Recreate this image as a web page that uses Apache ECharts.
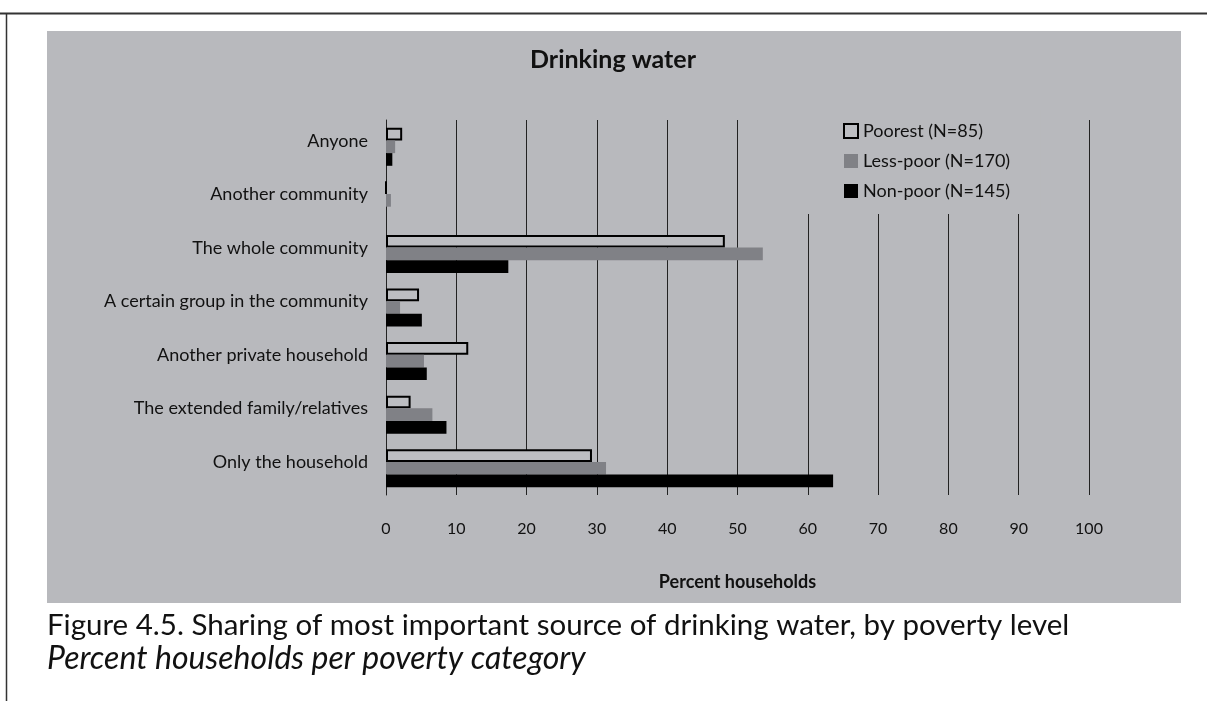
<!DOCTYPE html>
<html>
<head>
<meta charset="utf-8">
<script src="https://cdn.jsdelivr.net/npm/echarts@6/dist/echarts.min.js"></script>
<style>
  html, body { margin: 0; padding: 0; background: #fff; }
  #chart { width: 1207px; height: 701px; }
</style>
</head>
<body>
<div id="chart"></div>
<script>
  // categories top to bottom
  const categories = [
    'Anyone',
    'Another community',
    'The whole community',
    'A certain group in the community',
    'Another private household',
    'The extended family/relatives',
    'Only the household'
  ];
  const poorest = [2.3, 0, 48.2, 4.7, 11.7, 3.5, 29.3];
  const lessPoor = [1.3, 0.7, 53.6, 2.0, 5.4, 6.6, 31.3];
  const nonPoor = [0.9, 0, 17.4, 5.1, 5.8, 8.6, 63.6];
  const seriesNames = ['Poorest (N=85)', 'Less-poor (N=170)', 'Non-poor (N=145)'];
  const xTicks = [0, 10, 20, 30, 40, 50, 60, 70, 80, 90, 100];

  const bg = '#b8b9bd';
  const font = 'Lato, "Open Sans", sans-serif';

  const myChart = echarts.init(document.getElementById('chart'));

  let option = {
    backgroundColor: '#fff',
    animation: false,
    textStyle: { fontFamily: font },
    title: {
      text: 'Drinking water',
      left: 608,
      top: 42,
      textAlign: 'center',
      textStyle: { fontSize: 25, fontWeight: 'bold', color: '#111', fontFamily: font }
    },
    legend: {
      orient: 'vertical',
      left: 800,
      top: 110,
      padding: [12, 30, 14, 43],
      backgroundColor: bg,
      itemWidth: 14,
      itemHeight: 14,
      itemGap: 12,
      icon: 'rect',
      textStyle: { fontSize: 18, color: '#111', lineHeight: 14, fontFamily: font },
      data: seriesNames
    },
    grid: {
      left: 386,
      right: 118,
      top: 120,
      bottom: 206,
      containLabel: false
    },
    xAxis: {
      type: 'value',
      min: 0,
      max: 100,
      interval: 10,
      name: 'Percent households',
      nameLocation: 'middle',
      nameGap: 78,
      nameTextStyle: { fontSize: 18, fontWeight: 'bold', color: '#111', fontFamily: font },
      axisLine: { show: false },
      axisTick: { show: false },
      axisLabel: {
        fontSize: 16,
        color: '#111',
        margin: 26,
        formatter: function (v) { return xTicks.indexOf(v) >= 0 ? String(v) : ''; }
      },
      splitLine: { show: true, lineStyle: { color: '#222', width: 1 } }
    },
    yAxis: {
      type: 'category',
      inverse: true,
      data: categories,
      axisLine: { show: true, lineStyle: { color: '#222', width: 1 } },
      axisTick: { show: false },
      axisLabel: {
        fontSize: 18,
        color: '#111',
        margin: 18,
        verticalAlign: 'bottom',
        lineHeight: 12
      }
    },
    series: [
      {
        name: seriesNames[0],
        type: 'bar',
        data: poorest,
        barGap: '0%',
        barCategoryGap: '29%',
        itemStyle: { color: '#bdbec2', borderColor: '#000', borderWidth: 2 }
      },
      {
        name: seriesNames[1],
        type: 'bar',
        data: lessPoor,
        barGap: '0%',
        barCategoryGap: '29%',
        itemStyle: { color: '#808186' }
      },
      {
        name: seriesNames[2],
        type: 'bar',
        data: nonPoor,
        barGap: '0%',
        barCategoryGap: '29%',
        itemStyle: { color: '#000' }
      }
    ],
    graphic: [
      {
        type: 'rect',
        z: -100,
        shape: { x: 47, y: 31, width: 1134, height: 572 },
        style: { fill: bg }
      },
      {
        type: 'line',
        shape: { x1: 0, y1: 13.5, x2: 1207, y2: 13.5 },
        style: { stroke: '#333', lineWidth: 2 }
      },
      {
        type: 'line',
        shape: { x1: 6.5, y1: 13, x2: 6.5, y2: 701 },
        style: { stroke: '#333', lineWidth: 1.5 }
      },
      {
        type: 'text',
        left: 47,
        top: 610,
        style: {
          text: 'Figure 4.5. Sharing of most important source of drinking water, by poverty level',
          fontSize: 29.5,
          fontFamily: font,
          fill: '#111'
        }
      },
      {
        type: 'text',
        left: 47,
        top: 643,
        style: {
          text: 'Percent households per poverty category',
          fontSize: 32,
          fontStyle: 'italic',
          fontFamily: font,
          fill: '#111'
        }
      }
    ]
  };

  myChart.setOption(option);
</script>
</body>
</html>
